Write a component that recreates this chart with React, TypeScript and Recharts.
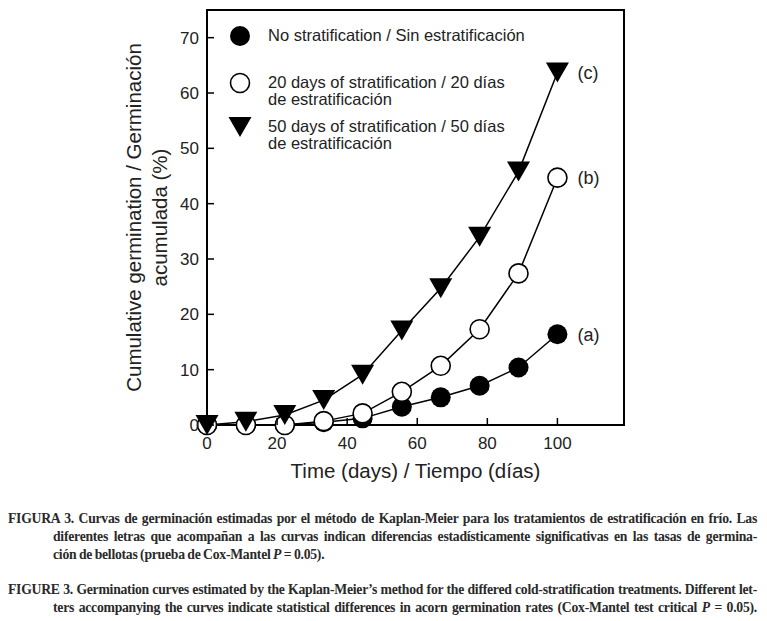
import React from 'react'
import { LineChart, Line, XAxis, YAxis, ReferenceArea, Legend, LabelList, Label } from 'recharts'

// days since sowing (10 checks, every ~11 days)
const DAYS = [0, 11.1, 22.2, 33.3, 44.4, 55.6, 66.7, 77.8, 88.9, 100]
// cumulative germination (%)
const NO_STRAT = [0, 0, 0, 0.5, 1.2, 3.3, 5.0, 7.1, 10.4, 16.4]
const STRAT_20 = [0, 0, 0, 0.7, 2.1, 6.0, 10.7, 17.3, 27.4, 44.7]
const STRAT_50 = [0, 0.6, 1.8, 4.5, 9.1, 17.1, 24.7, 34.0, 45.8, 63.7]

const X_TICKS = [0, 20, 40, 60, 80, 100]
const Y_TICKS = [0, 10, 20, 30, 40, 50, 60, 70]

const LEGEND_LABELS = [
  ['No stratification / Sin estratificación'],
  ['20 days of stratification / 20 días', 'de estratificación'],
  ['50 days of stratification / 50 días', 'de estratificación'],
]
const LETTERS = ['(a)', '(b)', '(c)']

const X_TITLE = 'Time (days) / Tiempo (días)'
const Y_TITLE = ['Cumulative germination / Germinación', 'acumulada (%)']

// caption lines: [before italic, italic, after]
const CAPTION = [
  ['FIGURA 3. Curvas de germinación estimadas por el método de Kaplan-Meier para los tratamientos de estratificación en frío. Las', '', ''],
  ['diferentes letras que acompañan a las curvas indican diferencias estadísticamente significativas en las tasas de germina-', '', ''],
  ['ción de bellotas (prueba de Cox-Mantel ', 'P', ' = 0.05).'],
  ['FIGURE 3. Germination curves estimated by the Kaplan-Meier’s method for the differed cold-stratification treatments. Different let-', '', ''],
  ['ters accompanying the curves indicate statistical differences in acorn germination rates (Cox-Mantel test critical ', 'P', ' = 0.05).'],
]

const data = DAYS.map((d, i) => ({ day: d, none: NO_STRAT[i], d20: STRAT_20[i], d50: STRAT_50[i] }))
const LAST = DAYS.length - 1

const FONT = '"Liberation Sans", Arial, Helvetica, sans-serif'
const X_TICK_MARGIN = 24
const Y_TICK_MARGIN = 8
const TICK_LEN = 7

function XTick(props: any) {
  const { x, y, payload } = props
  const axisY = y - X_TICK_MARGIN
  return (
    <g>
      <line x1={x} y1={axisY} x2={x} y2={axisY - TICK_LEN} stroke="#000" strokeWidth={1.5} />
      <text x={x} y={y} textAnchor="middle" fontSize={17} fontFamily={FONT} fill="#222">
        {payload.value}
      </text>
    </g>
  )
}

function YTick(props: any) {
  const { x, y, payload } = props
  const axisX = x + Y_TICK_MARGIN
  return (
    <g>
      <line x1={axisX} y1={y} x2={axisX + TICK_LEN} y2={y} stroke="#000" strokeWidth={1.5} />
      <text x={x} y={y} dy="0.35em" textAnchor="end" fontSize={17} fontFamily={FONT} fill="#222">
        {payload.value}
      </text>
    </g>
  )
}

function FilledDot(props: any) {
  const { cx, cy, index } = props
  return <circle key={`f-${index}`} cx={cx} cy={cy} r={10} fill="#000" />
}

function OpenDot(props: any) {
  const { cx, cy, index } = props
  return <circle key={`o-${index}`} cx={cx} cy={cy} r={9.5} fill="#fff" stroke="#000" strokeWidth={1.6} />
}

function triPoints(cx: number, cy: number) {
  return `${cx - 11.5},${cy - 10} ${cx + 11.5},${cy - 10} ${cx},${cy + 10}`
}

function TriDot(props: any) {
  const { cx, cy, index } = props
  return <polygon key={`t-${index}`} points={triPoints(cx, cy)} fill="#000" />
}

const letterLabel = (letter: string) => (props: any) => {
  const { x, y, index } = props
  if (index !== LAST) return null
  return (
    <text x={x + 20} y={y} dy="0.35em" fontSize={18} fontFamily={FONT} fill="#222">
      {letter}
    </text>
  )
}

function XTitle(props: any) {
  const vb = props.viewBox
  return (
    <text x={vb.x + vb.width / 2} y={vb.y + 53} textAnchor="middle" fontSize={20.5} fontFamily={FONT} fill="#222">
      {X_TITLE}
    </text>
  )
}

function YTitle(props: any) {
  const vb = props.viewBox
  const cy = vb.y + vb.height / 2
  return (
    <g>
      {Y_TITLE.map((line, i) => {
        const bx = 141 + i * 26
        return (
          <text
            key={line}
            x={bx}
            y={cy}
            transform={`rotate(-90, ${bx}, ${cy})`}
            textAnchor="middle"
            fontSize={20.5}
            fontFamily={FONT}
            fill="#222"
          >
            {line}
          </text>
        )
      })}
    </g>
  )
}

const LEGEND_ROWS = [36, 83, 127]

function LegendIcon({ kind }: { kind: number }) {
  return (
    <svg width={26} height={26} style={{ display: 'block' }}>
      {kind === 0 && <circle cx={13} cy={13} r={10} fill="#000" />}
      {kind === 1 && <circle cx={13} cy={13} r={9.5} fill="#fff" stroke="#000" strokeWidth={1.6} />}
      {kind === 2 && <polygon points={triPoints(13, 13)} fill="#000" />}
    </svg>
  )
}

function renderLegend() {
  return (
    <div style={{ position: 'relative', width: 767, height: 160, fontFamily: FONT, fontSize: 16.5, color: '#222' }}>
      {LEGEND_LABELS.map((lines, i) => (
        <React.Fragment key={i}>
          <div style={{ position: 'absolute', left: 227, top: LEGEND_ROWS[i] - 13 }}>
            <LegendIcon kind={i} />
          </div>
          <div
            style={{
              position: 'absolute',
              left: 268,
              top: LEGEND_ROWS[i] - 9.5,
              lineHeight: '17px',
              whiteSpace: 'nowrap',
              textAlign: 'left',
            }}
          >
            {lines.map((l) => (
              <div key={l}>{l}</div>
            ))}
          </div>
        </React.Fragment>
      ))}
    </div>
  )
}

// left, top, width, justified
const CAPTION_POS = [
  { x: 8, y: 510, w: 749, j: true },
  { x: 53, y: 528, w: 704, j: true },
  { x: 53, y: 546, w: 500, j: false },
  { x: 8, y: 581, w: 749, j: true },
  { x: 53, y: 599, w: 704, j: true },
]

function Caption() {
  return (
    <div style={{ position: 'absolute', left: 0, top: 0, width: 767, height: 621 }}>
      {CAPTION.map((parts, i) => {
        const p = CAPTION_POS[i]
        return (
          <div
            key={i}
            style={{
              position: 'absolute',
              left: p.x,
              top: p.y,
              width: p.w,
              whiteSpace: 'nowrap',
              textAlign: p.j ? 'justify' : 'left',
              textAlignLast: p.j ? 'justify' : 'left',
              fontFamily: '"Liberation Serif", "Times New Roman", serif',
              fontWeight: 'bold',
              fontSize: 13.7,
              letterSpacing: -0.25,
              wordSpacing: -0.6,
              lineHeight: '18px',
              color: '#2a2a2a',
            }}
          >
            {parts[0]}
            {parts[1] && <i>{parts[1]}</i>}
            {parts[2]}
          </div>
        )
      })}
    </div>
  )
}

export default function App() {
  return (
    <div style={{ position: 'absolute', left: 0, top: 0, width: 767, height: 621, background: '#fff' }}>
      <Caption />
      <div style={{ position: 'absolute', left: 0, top: 0 }}>
        <LineChart width={767} height={490} data={data} margin={{ top: 10, right: 143, bottom: 0, left: 0 }}>
          <XAxis
            dataKey="day"
            type="number"
            domain={[0, 119]}
            ticks={X_TICKS}
            height={65}
            tickSize={0}
            tickMargin={X_TICK_MARGIN}
            tickLine={false}
            tick={<XTick />}
            axisLine={{ stroke: '#000', strokeWidth: 2 }}
            interval={0}
          >
            <Label content={<XTitle />} />
          </XAxis>
          <YAxis
            type="number"
            domain={[0, 75]}
            ticks={Y_TICKS}
            width={207}
            tickSize={0}
            tickMargin={Y_TICK_MARGIN}
            tickLine={false}
            tick={<YTick />}
            axisLine={{ stroke: '#000', strokeWidth: 2 }}
            interval={0}
          >
            <Label content={<YTitle />} />
          </YAxis>
          <ReferenceArea x1={0} x2={119} y1={0} y2={75} fill="none" stroke="#000" strokeWidth={2} fillOpacity={0} />
          <Legend
            layout="horizontal"
            verticalAlign="middle"
            align="center"
            content={renderLegend}
            wrapperStyle={{ top: 0, left: 0, width: 767, margin: 0 }}
          />
          <Line dataKey="none" stroke="#000" strokeWidth={1.5} dot={FilledDot} activeDot={false} isAnimationActive={false}>
            <LabelList dataKey="none" content={letterLabel(LETTERS[0])} />
          </Line>
          <Line dataKey="d20" stroke="#000" strokeWidth={1.5} dot={OpenDot} activeDot={false} isAnimationActive={false}>
            <LabelList dataKey="d20" content={letterLabel(LETTERS[1])} />
          </Line>
          <Line dataKey="d50" stroke="#000" strokeWidth={1.5} dot={TriDot} activeDot={false} isAnimationActive={false}>
            <LabelList dataKey="d50" content={letterLabel(LETTERS[2])} />
          </Line>
        </LineChart>
      </div>
    </div>
  )
}
